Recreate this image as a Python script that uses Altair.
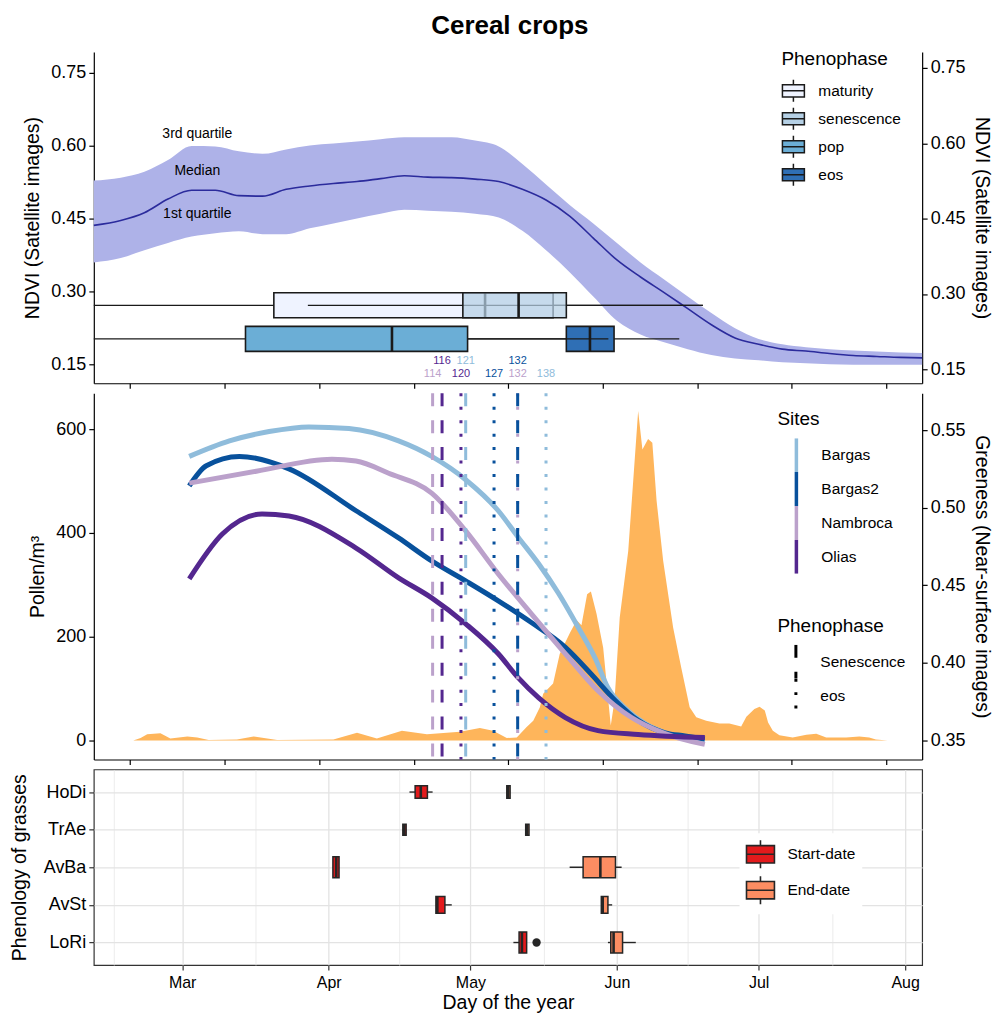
import altair as alt
import pandas as pd

FONT = "Liberation Sans"
X_DOMAIN = [42.3, 217.6]
PANEL_W = 830

# ---------------- Top panel: NDVI (satellite images) ----------------
ndvi_day = [42.3, 48, 53, 58, 63, 68, 73, 78, 83, 88, 93, 98, 103, 108, 113,
            118, 123, 128, 133, 138, 143, 148, 153, 158, 163, 168, 173, 178,
            183, 188, 193, 198, 203, 208, 213, 217.6]
ndvi_q1 = [0.360, 0.369, 0.385, 0.400, 0.413, 0.420, 0.424, 0.418, 0.418, 0.430,
           0.440, 0.450, 0.460, 0.468, 0.466, 0.464, 0.460, 0.452, 0.425, 0.385,
           0.340, 0.290, 0.240, 0.212, 0.196, 0.182, 0.170, 0.163, 0.159, 0.155,
           0.153, 0.151, 0.150, 0.150, 0.150, 0.150]
ndvi_median = [0.436, 0.446, 0.462, 0.490, 0.508, 0.508, 0.497, 0.496, 0.510, 0.517,
               0.522, 0.526, 0.532, 0.538, 0.535, 0.534, 0.531, 0.526, 0.510, 0.488,
               0.455, 0.410, 0.365, 0.330, 0.298, 0.265, 0.232, 0.205, 0.192, 0.182,
               0.178, 0.173, 0.169, 0.167, 0.165, 0.164]
ndvi_q3 = [0.528, 0.534, 0.546, 0.570, 0.599, 0.598, 0.588, 0.583, 0.592, 0.600,
           0.604, 0.608, 0.613, 0.617, 0.617, 0.617, 0.610, 0.598, 0.562, 0.520,
           0.478, 0.440, 0.400, 0.360, 0.325, 0.290, 0.256, 0.225, 0.203, 0.192,
           0.186, 0.182, 0.179, 0.177, 0.175, 0.174]

quartile_text = ["3rd quartile", "Median", "1st quartile"]
quartile_day = [64.2, 64.2, 64.2]
quartile_ndvi = [0.623, 0.548, 0.460]

phase_names = ["maturity", "senescence", "pop", "eos"]
phase_colors = ["#eff3ff", "#b5d0e5", "#6baed6", "#2f6fb5"]
box_row = [0.272, 0.272, 0.203, 0.203]
box_low = [30.0, 87.6, 30.0, 121.4]
box_q1 = [80.4, 120.4, 74.4, 142.3]
box_median = [125.1, 132.2, 105.4, 147.3]
box_q3 = [139.5, 142.3, 121.4, 152.4]
box_high = [171.2, 171.2, 151.2, 166.2]

# ---------------- Sites (near-surface images) ----------------
site_names = ["Bargas", "Bargas2", "Nambroca", "Olias"]
site_colors = ["#8fbcdb", "#08519c", "#bba1cb", "#54278f"]

pheno_site = ["Nambroca", "Olias", "Olias", "Bargas", "Bargas2", "Nambroca", "Bargas2", "Bargas"]
pheno_phase = ["Senescence", "Senescence", "eos", "Senescence", "eos", "eos", "Senescence", "eos"]
pheno_day = [114, 116, 120, 121, 127, 132, 132, 138]
pheno_label_row = [2, 1, 2, 1, 2, 2, 1, 2]

bargas_day = [62.5, 71.0, 79.4, 87.8, 96.3, 106.8, 113.8, 121.0, 127.9, 132.1,
              136.4, 140.6, 144.8, 148.4, 151.1, 154.7, 158.9, 163.2, 167.4, 171.6]
bargas_green = [0.533, 0.543, 0.549, 0.552, 0.551, 0.543, 0.533, 0.518, 0.498, 0.481,
                0.464, 0.445, 0.423, 0.403, 0.384, 0.371, 0.361, 0.355, 0.352, 0.350]
bargas2_day = [62.5, 66.1, 73.1, 83.6, 97.8, 106.8, 113.8, 121.0, 127.9, 134.9,
               142.1, 147.5, 152.6, 157.5, 163.2, 167.4, 171.6]
bargas2_green = [0.514, 0.527, 0.533, 0.525, 0.498, 0.4805, 0.4657, 0.4528, 0.440, 0.426,
                 0.410, 0.393, 0.376, 0.363, 0.355, 0.353, 0.351]
nambroca_day = [62.5, 76.7, 92.7, 97.8, 104.7, 113.8, 121.0, 127.9, 134.9, 142.1,
                149.0, 156.0, 163.2, 171.6]
nambroca_green = [0.5158, 0.5235, 0.5312, 0.530, 0.5222, 0.5094, 0.485, 0.4573, 0.4316,
                  0.4059, 0.3821, 0.365, 0.3545, 0.3475]
olias_day = [62.5, 69.5, 77.9, 83.6, 97.8, 106.8, 113.8, 121.0, 127.9, 132.1,
             136.4, 142.1, 149.0, 157.5, 171.6]
olias_green = [0.4541, 0.483, 0.4959, 0.4946, 0.474, 0.4548, 0.4419, 0.4252, 0.4059,
               0.3905, 0.3776, 0.3648, 0.3564, 0.3539, 0.3519]

# ---------------- Pollen ----------------
pollen_day = [50.65, 52.2, 53.6, 56.4, 58.5, 62.1, 64.2, 66.6, 72.6, 76.1, 81.1, 93.0,
              98.0, 102.2, 107.5, 112.8, 119.8, 124.0, 126.8, 129.7, 131.8, 133.9,
              135.3, 136.7, 137.4, 139.5, 140.9, 143.1, 144.5, 145.5, 146.7, 147.5,
              148.7, 150.1, 150.9, 151.7, 152.5, 153.6, 155.4, 157.5, 158.4, 159.6,
              160.5, 161.4, 162.8, 164.9, 166.6, 168.4, 169.8, 171.9, 174.7, 176.8,
              179.3, 180.4, 182.1, 183.2, 184.3, 185.0, 186.0, 187.4, 190.2, 193.1,
              195.2, 197.3, 201.5, 204.3, 206.4, 207.8, 210.3]
pollen_conc = [0, 5, 12, 14, 4, 8, 6, 1, 2, 8, 1, 2, 15, 4, 19, 12, 17, 24, 19, 5, 6,
               26, 38, 64, 90, 110, 167, 208, 232, 222, 282, 287, 244, 179, 103, 29,
               77, 237, 365, 635, 561, 581, 574, 462, 346, 218, 141, 64, 45, 38, 33,
               33, 27, 46, 61, 65, 58, 35, 19, 10, 6, 11, 13, 6, 6, 8, 6, 2, 0]

# ---------------- Grasses phenology ----------------
grass = ["HoDi", "TrAe", "AvBa", "AvSt", "LoRi"]
grass_n = [4, 3, 11, 7, 11]
start_low = [109.1, 107.7, 92.9, 114.7, 131.1]
start_q1 = [110.3, 107.7, 92.9, 114.7, 132.3]
start_med = [111.5, 108.0, 93.6, 115.0, 132.9]
start_q3 = [112.9, 108.4, 94.2, 116.6, 133.9]
start_high = [114.0, 108.4, 94.2, 118.05, 133.9]
end_low = [129.7, 133.7, 143.0, 149.7, 151.1]
end_q1 = [129.7, 133.7, 145.85, 149.7, 151.7]
end_med = [130.0, 134.0, 149.5, 150.0, 152.3]
end_q3 = [130.4, 134.4, 152.7, 151.1, 154.2]
end_high = [130.4, 134.4, 154.0, 152.0, 157.0]
outlier_species = ["LoRi"]
outlier_day = [136.0]
kind_names = ["Start-date", "End-date"]
kind_colors = ["#e31a1c", "#fc8d62"]

month_day = [61, 92, 122, 153, 183, 214]
month_name = ["Mar", "Apr", "May", "Jun", "Jul", "Aug"]
minor_day = [46.5, 76.5, 107, 137.5, 168, 198.5]

# ---------------- data frames ----------------
ndvi_df = pd.DataFrame(dict(day=ndvi_day, q1=ndvi_q1, med=ndvi_median, q3=ndvi_q3))
quart_df = pd.DataFrame(dict(label=quartile_text, day=quartile_day, ndvi=quartile_ndvi))
box_df = pd.DataFrame(dict(phase=phase_names, row=box_row, low=box_low, q1=box_q1,
                           med=box_median, q3=box_q3, high=box_high))
pheno_df = pd.DataFrame(dict(site=pheno_site, phase=pheno_phase, day=pheno_day,
                             row=pheno_label_row, label=[str(d) for d in pheno_day]))
green_df = pd.concat([
    pd.DataFrame(dict(site="Bargas", day=bargas_day, green=bargas_green)),
    pd.DataFrame(dict(site="Bargas2", day=bargas2_day, green=bargas2_green)),
    pd.DataFrame(dict(site="Nambroca", day=nambroca_day, green=nambroca_green)),
    pd.DataFrame(dict(site="Olias", day=olias_day, green=olias_green)),
])
pollen_df = pd.DataFrame(dict(day=pollen_day, conc=pollen_conc))
grass_df = pd.concat([
    pd.DataFrame(dict(species=grass, kind="Start-date", n=grass_n, low=start_low,
                      q1=start_q1, med=start_med, q3=start_q3, high=start_high)),
    pd.DataFrame(dict(species=grass, kind="End-date", n=grass_n, low=end_low,
                      q1=end_q1, med=end_med, q3=end_q3, high=end_high)),
])
outlier_df = pd.DataFrame(dict(species=outlier_species, day=outlier_day))

# ---------------- scales / axes ----------------
XS = alt.Scale(domain=X_DOMAIN, nice=False, zero=False)
AX_X_BLANK = alt.Axis(values=list(range(50, 211, 20)), labels=False, grid=False,
                      tickSize=5, title=None)


def xq(field, axis=AX_X_BLANK):
    return alt.X(f"{field}:Q", scale=XS, axis=axis)


Y_NDVI = alt.Scale(domain=[0.1222, 0.7818], nice=False, zero=False)
ndvi_ticks = [0.15, 0.30, 0.45, 0.60, 0.75]
AX_NDVI_L = alt.Axis(values=ndvi_ticks, format=".2f", title="NDVI (Satellite images)",
                     orient="left", titlePadding=8, grid=False)
AX_NDVI_R = alt.Axis(values=ndvi_ticks, format=".2f", title="NDVI (Satellite images)",
                     orient="right", titlePadding=6, grid=False)


def yn(field):
    return alt.Y(f"{field}:Q", scale=Y_NDVI, axis=AX_NDVI_L)


SITE_SCALE = alt.Scale(domain=site_names, range=site_colors)
BOX_H = "M-1,-0.55H1V0.55H-1Z M-1,0H1 M0,-0.55V-1 M0,0.55V1"
LINE_V = "M0,-1V1"

# ---------------- top panel ----------------
band = alt.Chart(ndvi_df).mark_area(color="#aeb2e8", opacity=1, interpolate="monotone").encode(
    x=xq("day"), y=yn("q1"), y2="q3:Q")
median = alt.Chart(ndvi_df).mark_line(color="#2b2b9c", strokeWidth=1.6,
                                      interpolate="monotone").encode(
    x=xq("day"), y=yn("med"))
quart = alt.Chart(quart_df).mark_text(fontSize=14, color="black").encode(
    x=xq("day"), y=yn("ndvi"), text="label:N")

phase_legend = alt.Legend(title="Phenophase", orient="none", legendX=689, legendY=-2,
                          symbolType=BOX_H, symbolSize=484, symbolStrokeColor="#1a1a1a",
                          symbolStrokeWidth=1.5, symbolOpacity=1, labelFontSize=15.5,
                          titleFontSize=19, labelOffset=13, rowPadding=0,
                          titlePadding=10)
# drawing order (later phases drawn on top); senescence box is translucent
draw_order = ["maturity", "senescence", "eos", "pop"]
fill_alpha = {"maturity": 1.0, "senescence": 0.72, "eos": 1.0, "pop": 1.0}
box_layers = []
for ph in draw_order:
    d = box_df[box_df.phase == ph]
    base = alt.Chart(d)
    box_layers.append(base.mark_rule(color="#1a1a1a", strokeWidth=1.3, clip=True).encode(
        x=xq("low"), x2="high:Q", y=yn("row")))
    box_layers.append(base.mark_bar(size=25, stroke="#1a1a1a", strokeWidth=1.6,
                                    fillOpacity=fill_alpha[ph], clip=True).encode(
        x=xq("q1"), x2="q3:Q", y=yn("row"),
        fill=alt.Fill("phase:N", scale=alt.Scale(domain=phase_names, range=phase_colors),
                      legend=phase_legend)))
    box_layers.append(base.mark_tick(orient="vertical", size=25, thickness=2.6,
                                     color="#1a1a1a", opacity=1).encode(
        x=xq("med"), y=yn("row")))

day_labels = alt.Chart(pheno_df).transform_calculate(
    ly="datum.row == 1 ? 0.158 : 0.131"
).mark_text(fontSize=11).encode(
    x=xq("day"), y=yn("ly"), text="label:N",
    color=alt.Color("site:N", scale=SITE_SCALE, legend=None))

right_ndvi = alt.Chart(ndvi_df).mark_line(opacity=0).encode(
    x=xq("day"), y=alt.Y("med:Q", scale=Y_NDVI, axis=AX_NDVI_R))

top = alt.layer(
    alt.layer(band, median, quart, *box_layers, day_labels),
    right_ndvi,
).resolve_scale(y="independent").properties(width=PANEL_W, height=332)

# ---------------- middle panel ----------------
Y_POLLEN = alt.Scale(domain=[-36.5, 669.2], nice=False, zero=False)
Y_GREEN = alt.Scale(domain=[0.3378, 0.5737], nice=False, zero=False)

pollen = alt.Chart(pollen_df).mark_area(color="#feb55b", opacity=1).encode(
    x=xq("day"),
    y=alt.Y("conc:Q", scale=Y_POLLEN,
            axis=alt.Axis(values=[0, 200, 400, 600], title="Pollen/m³", orient="left",
                          titlePadding=8, grid=False)))

sites_legend = alt.Legend(title="Sites", orient="none", legendX=685, legendY=17,
                          symbolType=LINE_V, symbolSize=1156, symbolStrokeWidth=3.5,
                          labelFontSize=15.5, titleFontSize=19, labelOffset=6,
                          rowPadding=0, clipHeight=34, titlePadding=9)
dash_legend = alt.Legend(title="Phenophase", orient="none", legendX=685, legendY=224,
                         symbolType=LINE_V, symbolSize=1156, symbolStrokeWidth=3,
                         symbolStrokeColor="black", labelFontSize=15.5, titleFontSize=19,
                         labelOffset=6, rowPadding=0, clipHeight=34, titlePadding=9)

curves = alt.Chart(green_df).mark_line(strokeWidth=5, interpolate="monotone").encode(
    x=xq("day"),
    y=alt.Y("green:Q", scale=Y_GREEN,
            axis=alt.Axis(values=[0.35, 0.40, 0.45, 0.50, 0.55], format=".2f",
                          title="Greeness (Near-surface images)", orient="right",
                          titlePadding=6, grid=False)),
    color=alt.Color("site:N", scale=SITE_SCALE, legend=sites_legend),
    detail="site:N")

rules = alt.Chart(pheno_df).mark_rule(strokeWidth=3).encode(
    x=xq("day"),
    color=alt.Color("site:N", scale=SITE_SCALE, legend=sites_legend),
    strokeDash=alt.StrokeDash("phase:N",
                              scale=alt.Scale(domain=["Senescence", "eos"],
                                              range=[[13, 14], [3, 10.5]]),
                              legend=dash_legend))

middle = alt.layer(pollen, alt.layer(curves, rules)).resolve_scale(
    y="independent").properties(width=PANEL_W, height=367)

# ---------------- bottom panel ----------------
major_list = ",".join(str(v) for v in month_day)
label_expr = "".join(f"datum.value == {d} ? '{m}' : " for d, m in zip(month_day, month_name)) + "''"
AX_X_BOTTOM = alt.Axis(
    values=month_day + minor_day, labelExpr=label_expr, title="Day of the year",
    grid=True, gridColor="#e3e3e3",
    gridWidth={"condition": {"test": f"indexof([{major_list}], datum.value) >= 0",
                             "value": 1.3}, "value": 0.7},
    tickOpacity={"condition": {"test": f"indexof([{major_list}], datum.value) >= 0",
                               "value": 1}, "value": 0},
    tickColor="#333333", domain=False, labelFontSize=16, labelPadding=4,
    titleFontSize=19.5, titlePadding=4)
Y_GRASS = alt.Scale(type="point", domain=grass, padding=0.6)
AX_Y_GRASS = alt.Axis(title="Phenology of grasses", grid=True, gridColor="#e3e3e3",
                      gridWidth=1.3, domain=False, tickColor="#333333", tickSize=5,
                      labelFontSize=18, titleFontSize=19.5, titlePadding=14)
SIZE_N = alt.Size("n:Q", scale=alt.Scale(type="sqrt", domain=[0, 11], range=[0, 21]),
                  legend=None)
BOX_V = "M-1,-0.62H1V0.62H-1Z M-1,0H1 M0,-0.62V-1 M0,0.62V1"
kind_legend = alt.Legend(title=None, orient="none", legendX=647, legendY=64,
                         symbolType=BOX_V, symbolSize=784, symbolStrokeColor="#262626",
                         symbolStrokeWidth=1.6, symbolOpacity=1, labelFontSize=15.5,
                         labelOffset=12, rowPadding=0, fillColor="white", padding=6)

gbase = alt.Chart(grass_df)
g_whisk = gbase.mark_rule(color="#262626", strokeWidth=1.4).encode(
    x=xq("low", AX_X_BOTTOM), x2="high:Q",
    y=alt.Y("species:N", scale=Y_GRASS, axis=AX_Y_GRASS))
g_box = gbase.mark_bar(stroke="#262626", strokeWidth=1.5, opacity=1).encode(
    x=xq("q1", AX_X_BOTTOM), x2="q3:Q",
    y=alt.Y("species:N", scale=Y_GRASS, axis=AX_Y_GRASS),
    fill=alt.Fill("kind:N", scale=alt.Scale(domain=kind_names, range=kind_colors),
                  legend=kind_legend),
    size=SIZE_N)
g_med = gbase.mark_tick(orient="vertical", thickness=2.6, color="#262626", opacity=1).encode(
    x=xq("med", AX_X_BOTTOM),
    y=alt.Y("species:N", scale=Y_GRASS, axis=AX_Y_GRASS),
    size=SIZE_N)
g_out = alt.Chart(outlier_df).mark_circle(size=70, color="#262626", opacity=1).encode(
    x=xq("day", AX_X_BOTTOM),
    y=alt.Y("species:N", scale=Y_GRASS, axis=AX_Y_GRASS))

bottom = alt.layer(g_whisk, g_box, g_med, g_out).properties(
    width=PANEL_W, height=196,
    view=alt.ViewBackground(stroke="#333333", strokeWidth=1.2))

# ---------------- assemble ----------------
chart = alt.vconcat(
    top, middle, bottom, spacing=10, bounds="flush",
    title=alt.TitleParams("Cereal crops", fontSize=26, fontWeight="bold",
                          anchor="middle", offset=11, dx=10),
).resolve_scale(
    color="independent", fill="independent", strokeDash="independent", size="independent"
).properties(
    padding={"left": 8, "right": 2, "top": 12, "bottom": 2}
).configure(
    font=FONT
).configure_view(
    strokeWidth=0
).configure_axis(
    domainColor="black", domainWidth=1.2, tickColor="black", tickWidth=1.2,
    labelColor="black", titleColor="black", labelFontSize=18, titleFontSize=19.5,
    titleFontWeight="normal", tickSize=5, labelPadding=3, grid=False
).configure_legend(
    titleFontWeight="normal", titleColor="black", labelColor="black"
)

chart.save("out.html", embed_options={"renderer": "svg", "actions": False})
